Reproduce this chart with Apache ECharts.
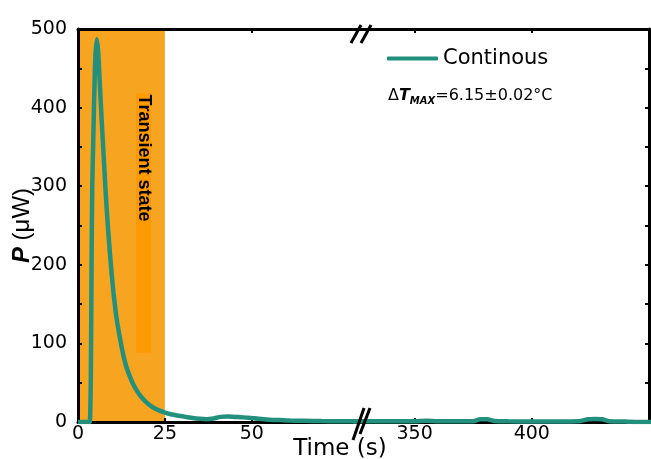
<!DOCTYPE html>
<html><head><meta charset="utf-8">
<script src="https://cdn.jsdelivr.net/npm/echarts@6/dist/echarts.min.js"></script>
<style>html,body{margin:0;padding:0;background:#fff}#c{width:651px;height:459px}</style>
</head><body><div id="c"></div>
<script>
// ---- data ----
const timeS = [0, 3.0, 3.4, 3.7, 3.9, 4.1, 4.4, 4.7, 5.0, 5.4, 5.8, 6.3, 6.8, 7.3, 7.8, 8.2, 8.7, 9.2, 9.7, 10.2,
  11.1, 12.1, 13, 14, 15, 16, 17.5, 19, 20.5, 22, 23.5, 25, 27, 29, 31, 33, 35, 37, 39, 41, 43, 45, 47, 49,
  52, 55, 58, 61, 65, 70, 75, 80, 85,
  320, 330, 340, 350, 355, 360, 370, 375, 378, 381, 384, 390, 400, 410, 420, 424, 427, 430, 433, 440, 450, 455];
const powerUW = [0, 0, 0, 60, 200, 300, 360, 420, 465, 487, 472, 428, 385, 345, 305, 275, 243, 214, 188, 165,
  132, 106, 86, 69, 57, 47, 36, 28, 22, 17.5, 14.5, 12, 9.5, 8, 6.5, 5, 4, 3.5, 4.5, 6.5, 7, 6.5, 6, 5.5,
  4, 3, 2.5, 1.8, 1.5, 1.2, 1, 1, 1,
  1, 1, 0.8, 0.8, 1.5, 0.8, 0.8, 1, 3.5, 3.5, 1.2, 0.8, 0.5, 0.5, 0.8, 3.5, 3.8, 3.5, 1, 0.5, 0, 0];
const seriesName = 'Continous';
const xRangeLeft = [0, 80];
const xRangeRight = [325, 450];
const xLabelsLeft = [0, 25, 50];
const xTicksLeftBottom = [25, 50];
const xTicksLeftTop = [50];
const xLabelsRight = [350, 400];
const yRange = [0, 500];
const yStep = 100;
const transientX = [0, 25];
const shadeX = [16.7, 21];
const shadeY = [88, 418];

const pairs = timeS.map((t, i) => [t, powerUW[i]]);
const BLACK = '#000';
const TEAL = '#23907e';
const FONT = 'DejaVu Sans';

function xAx(grid, range, pos, tickVals, labelVals) {
  return {
    gridIndex: grid, type: 'value', min: range[0], max: range[1], position: pos, z: 5,
    axisLine: { show: true, onZero: false, lineStyle: { color: BLACK, width: 3 } },
    axisTick: { show: true, inside: true, length: 4, customValues: tickVals, lineStyle: { color: BLACK, width: 2 } },
    axisLabel: labelVals ? { show: true, customValues: labelVals, fontFamily: FONT, fontSize: 19, color: BLACK, margin: 3 } : { show: false },
    splitLine: { show: false }
  };
}
function yAx(grid, pos, labels) {
  return {
    gridIndex: grid, type: 'value', min: yRange[0], max: yRange[1], interval: yStep, position: pos, z: 5,
    axisLine: { show: true, lineStyle: { color: BLACK, width: 3 } },
    axisTick: { show: true, inside: true, length: 4, lineStyle: { color: BLACK, width: 2 } },
    minorTick: { show: true, splitNumber: 2, length: 4, lineStyle: { color: BLACK, width: 2 } },
    axisLabel: labels ? { show: true, fontFamily: FONT, fontSize: 19, color: BLACK, margin: 11 } : { show: false },
    splitLine: { show: false },
    name: labels ? '{p|P} (μW)' : '',
    nameLocation: 'middle', nameRotate: 90, nameGap: 44, nameMoveOverlap: false,
    nameTextStyle: { fontFamily: 'Liberation Sans', fontSize: 24, color: BLACK,
      rich: { p: { fontFamily: 'Liberation Sans', fontSize: 24, fontWeight: 'bold', fontStyle: 'italic', color: BLACK } } }
  };
}

const chart = echarts.init(document.getElementById('c'), null, { renderer: 'canvas' });
chart.setOption({
  animation: false,
  backgroundColor: '#fff',
  grid: [
    { left: 78, top: 29, width: 278, height: 393 },
    { left: 356, top: 29, width: 293, height: 393 }
  ],
  xAxis: [
    xAx(0, xRangeLeft, 'bottom', xTicksLeftBottom, xLabelsLeft),
    xAx(1, xRangeRight, 'bottom', xLabelsRight, xLabelsRight),
    xAx(0, xRangeLeft, 'top', xTicksLeftTop, null),
    xAx(1, xRangeRight, 'top', xLabelsRight, null)
  ],
  yAxis: [yAx(0, 'left', true), yAx(1, 'right', false)],
  legend: {
    data: [seriesName], left: 387, top: 48, padding: 0,
    icon: 'roundRect', itemWidth: 51, itemHeight: 4,
    textStyle: { fontFamily: FONT, fontSize: 21, color: BLACK }
  },
  series: [
    {
      name: 'band', type: 'line', xAxisIndex: 0, yAxisIndex: 0, data: [], z: 0, silent: true,
      markArea: {
        silent: true,
        data: [
          [{ xAxis: transientX[0], yAxis: yRange[0], itemStyle: { color: '#f7a520' } }, { xAxis: transientX[1], yAxis: yRange[1] }],
          [{ xAxis: shadeX[0], yAxis: shadeY[0], itemStyle: { color: '#fe9a03' } }, { xAxis: shadeX[1], yAxis: shadeY[1] }]
        ]
      }
    },
    {
      name: seriesName, type: 'line', xAxisIndex: 0, yAxisIndex: 0, data: pairs, showSymbol: false, symbol: 'none',
      smooth: 0.2, color: TEAL, lineStyle: { color: TEAL, width: 4.5 }, z: 10
    },
    {
      name: seriesName, type: 'line', xAxisIndex: 1, yAxisIndex: 1, data: pairs, showSymbol: false, symbol: 'none',
      smooth: 0.2, color: TEAL, lineStyle: { color: TEAL, width: 4.5 }, z: 10
    }
  ],
  graphic: [
    { type: 'text', x: 143.5, y: 158, rotation: -Math.PI / 2, z: 20,
      style: { text: 'Transient state', fontFamily: 'Liberation Sans', fontWeight: 'bold', fontSize: 18, fill: BLACK, align: 'center', verticalAlign: 'middle' } },
    { type: 'text', x: 388, y: 96, z: 20,
      style: { text: '{d|Δ}{t|T}{s|MAX}{n|=6.15±0.02°C}', verticalAlign: 'middle', align: 'left',
        rich: {
          d: { fontFamily: FONT, fontSize: 16, fill: BLACK, lineHeight: 20, verticalAlign: 'middle' },
          t: { fontFamily: FONT, fontSize: 16, fontWeight: 'bold', fontStyle: 'italic', fill: BLACK, lineHeight: 20, verticalAlign: 'middle' },
          s: { fontFamily: FONT, fontSize: 10, fontWeight: 'bold', fontStyle: 'italic', fill: BLACK, lineHeight: 12, verticalAlign: 'bottom' },
          n: { fontFamily: FONT, fontSize: 16, fill: BLACK, lineHeight: 20, verticalAlign: 'middle' }
        } } },
    { type: 'text', x: 340, y: 449, z: 20,
      style: { text: 'Time (s)', fontFamily: FONT, fontSize: 23, fill: BLACK, align: 'center', verticalAlign: 'middle' } },
    { type: 'line', z: 30, shape: { x1: 351, y1: 43, x2: 361, y2: 25 }, style: { stroke: BLACK, lineWidth: 3 } },
    { type: 'line', z: 30, shape: { x1: 361, y1: 43, x2: 371, y2: 25 }, style: { stroke: BLACK, lineWidth: 3 } },
    { type: 'line', z: 30, shape: { x1: 353, y1: 440, x2: 364, y2: 408 }, style: { stroke: BLACK, lineWidth: 3 } },
    { type: 'line', z: 30, shape: { x1: 360, y1: 434, x2: 370, y2: 408 }, style: { stroke: BLACK, lineWidth: 3 } }
  ]
});
</script>
</body></html>
